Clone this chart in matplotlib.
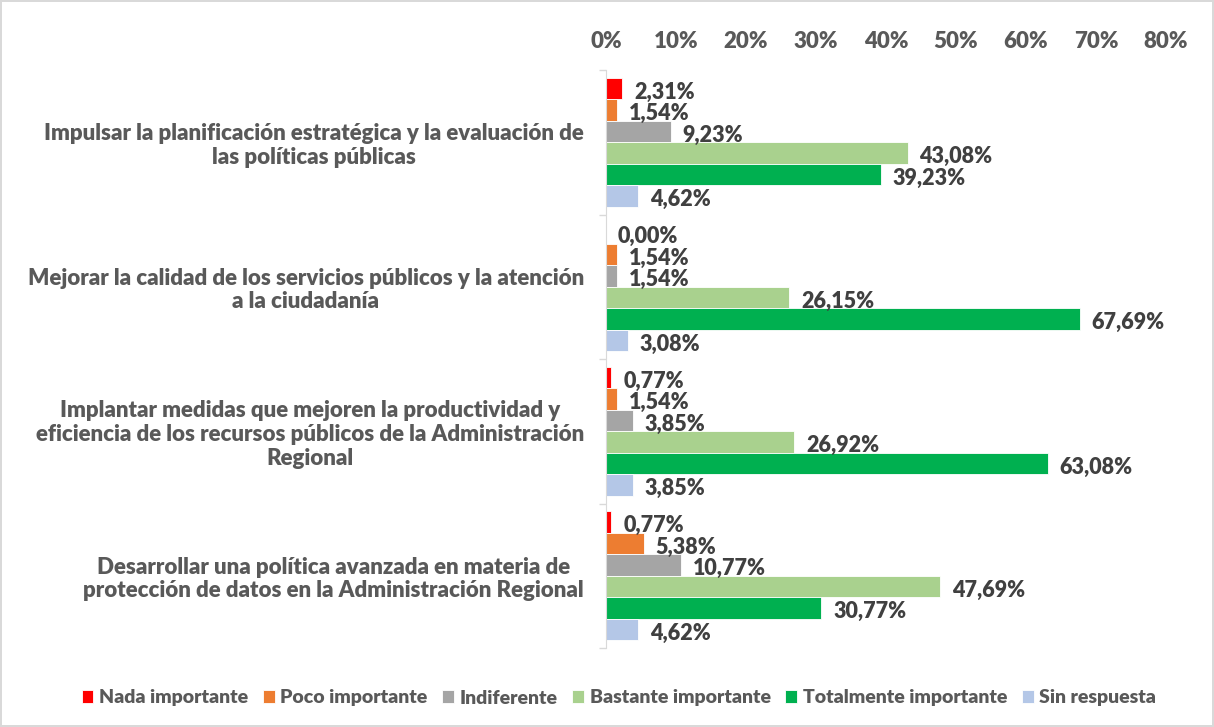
import matplotlib
matplotlib.use("Agg")
import matplotlib.pyplot as plt
import numpy as np

categories = [
    "Impulsar la planificación estratégica y la evaluación de\nlas políticas públicas",
    "Mejorar la calidad de los servicios públicos y la atención\na la ciudadanía",
    "Implantar medidas que mejoren la productividad y\neficiencia de los recursos públicos de la Administración\nRegional",
    "Desarrollar una política avanzada en materia de\nprotección de datos en la Administración Regional",
]
series_names = ["Nada importante", "Poco importante", "Indiferente",
                "Bastante importante", "Totalmente importante", "Sin respuesta"]
values = {
    "Nada importante":       [2.31, 0.00, 0.77, 0.77],
    "Poco importante":       [1.54, 1.54, 1.54, 5.38],
    "Indiferente":           [9.23, 1.54, 3.85, 10.77],
    "Bastante importante":   [43.08, 26.15, 26.92, 47.69],
    "Totalmente importante": [39.23, 67.69, 63.08, 30.77],
    "Sin respuesta":         [4.62, 3.08, 3.85, 4.62],
}
colors = ["#FF0000", "#ED7D31", "#A5A5A5", "#A9D18E", "#00B050", "#B4C7E7"]
xticks = [0, 10, 20, 30, 40, 50, 60, 70, 80]

plt.rcParams['font.family'] = ['Lato', 'DejaVu Sans']
plt.rcParams['font.weight'] = 'bold'

fig = plt.figure(figsize=(12.14, 7.27), dpi=100)
fig.patch.set_edgecolor("#D9D9D9")
fig.patch.set_linewidth(1.5)
ax = fig.add_axes([606/1214, 1-648/727, 560/1214, (648-70)/727])

n = len(series_names)
bh = 0.149
centers = np.arange(len(categories))
for i, (name, col) in enumerate(zip(series_names, colors)):
    y = centers - (n/2 - 0.5 - i) * bh
    vals = values[name]
    ax.barh(y, vals, height=bh, color=col, edgecolor="white", linewidth=0.6, label=name)
    for yy, v in zip(y, vals):
        ax.text(v + 1.7, yy + 0.025, f"{v:.2f}%".replace(".", ","), va="center", ha="left",
                fontsize=15.5, fontweight="heavy", color="#404040")

ax.set_xlim(0, 80)
ax.set_ylim(len(categories) - 0.5, -0.5)
ax.set_xticks(xticks)
ax.set_xticklabels([f"{t}%" for t in xticks])
ax.xaxis.tick_top()
ax.tick_params(axis="x", length=0, pad=13, labelsize=16, labelcolor="#595959")
ax.set_yticks(centers)
ax.set_yticklabels(categories, multialignment="center", linespacing=1.15)
ax.tick_params(axis="y", which="major", length=0, pad=16, labelsize=16, labelcolor="#595959")
ax.set_yticks(np.arange(len(categories) + 1) - 0.5, minor=True)
ax.tick_params(axis="y", which="minor", length=5, color="#D9D9D9", width=1)
for lab in ax.get_yticklabels() + ax.get_xticklabels():
    lab.set_fontweight("heavy")
for s in ["top", "right", "bottom"]:
    ax.spines[s].set_visible(False)
ax.spines["left"].set_color("#D9D9D9")

leg = fig.legend(loc="center", bbox_to_anchor=(619/1214, 1-698/727), ncol=6, frameon=False,
                 handlelength=0.6, handleheight=0.6, handletextpad=0.3, columnspacing=0.75,
                 prop={"size": 14, "weight": "heavy"})
for t in leg.get_texts():
    t.set_color("#595959")

fig.savefig("out.png", dpi=100, edgecolor=fig.get_edgecolor())
